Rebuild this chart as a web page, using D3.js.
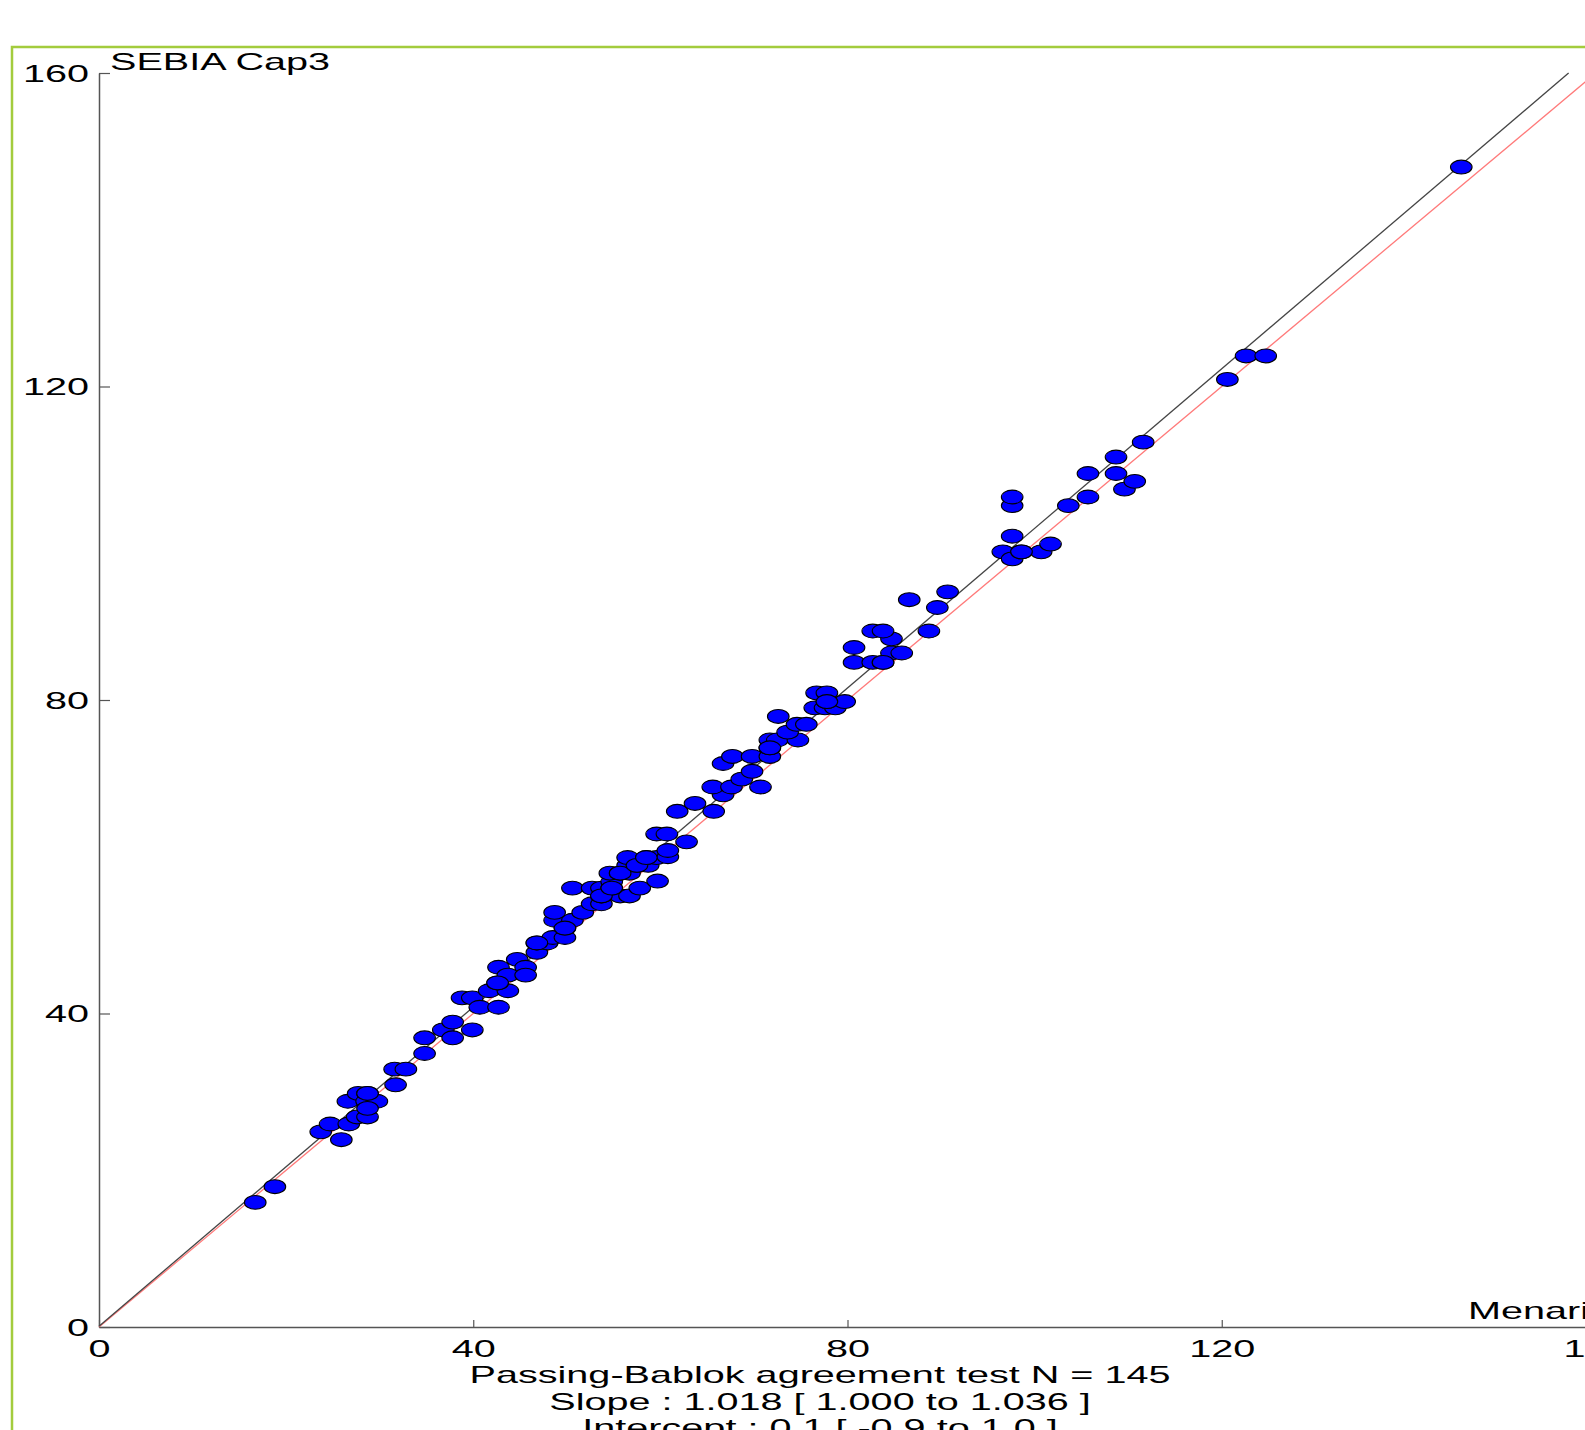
<!DOCTYPE html>
<html>
<head>
<meta charset="utf-8">
<script src="https://cdn.jsdelivr.net/npm/d3@7/dist/d3.min.js"></script>
<style>
body { margin: 0; background: #fff; }
text { font-family: "Liberation Sans", Arial, sans-serif; fill: #000; }
</style>
</head>
<body>
<div id="container"></div>
<script>
// Menarini (x) vs SEBIA Cap3 (y)
var menarini = [16.7, 18.8, 23.7, 24.7, 25.9, 26.7, 26.6, 27.7, 28.7, 28.6, 29.7, 27.6, 28.7, 28.7,
  31.7, 31.6, 32.8, 34.8, 34.8, 36.8, 37.8, 37.8, 39.9, 38.8, 39.9, 40.7, 42.7, 41.7, 43.7, 42.6,
  42.7, 43.7, 44.7, 45.6, 45.6, 46.8, 46.8, 47.9, 48.5, 49.8, 49.8, 48.7, 50.6, 48.7, 51.7, 52.7,
  53.7, 53.7, 55.7, 56.7, 50.6, 52.7, 53.7, 54.8, 57.8, 54.8, 59.7, 54.6, 55.7, 56.7, 56.5, 57.5,
  58.7, 56.5, 58.5, 59.6, 60.8, 60.8, 59.6, 60.7, 62.8, 61.8, 65.7, 63.7, 66.7, 65.6, 67.6, 70.7,
  68.7, 69.8, 66.7, 67.7, 69.8, 71.7, 71.7, 71.7, 72.5, 74.7, 73.6, 74.6, 75.6, 72.6, 76.5, 77.6,
  78.7, 77.8, 79.7, 76.7, 77.8, 80.7, 82.7, 83.8, 84.7, 85.8, 80.7, 84.7, 82.7, 83.8, 88.7, 89.6,
  86.6, 90.7, 96.6, 97.6, 98.6, 100.7, 101.7, 97.6, 97.6, 97.6, 103.6, 105.7, 105.7, 108.7, 109.6,
  110.7, 108.7, 111.6, 120.6, 122.6, 124.7, 145.6,
  28.7, 42.6, 49.8, 53.7, 54.8, 55.7, 57.5, 58.5, 71.7, 77.8, 83.8, 98.6, 46.8];
var sebia = [15.9, 17.9, 24.9, 25.9, 23.9, 25.9, 28.8, 29.8, 29.8, 28.8, 28.8, 26.8, 26.8, 27.9,
  30.9, 32.9, 32.9, 34.9, 36.9, 37.9, 38.9, 36.9, 37.9, 42.0, 42.0, 40.8, 40.8, 42.9, 42.9, 43.9,
  45.9, 44.9, 46.9, 45.9, 44.9, 47.8, 49.0, 49.0, 49.7, 49.7, 50.9, 51.9, 51.9, 52.9, 52.9, 54.0,
  54.0, 55.0, 55.0, 55.0, 56.0, 56.0, 56.0, 56.0, 56.0, 56.8, 56.9, 57.9, 57.9, 57.9, 58.9, 58.9,
  58.9, 59.9, 59.9, 59.9, 60.0, 60.8, 62.9, 62.9, 61.9, 65.8, 65.8, 66.8, 67.9, 68.9, 68.9, 68.9,
  69.9, 70.9, 71.9, 72.8, 72.8, 72.8, 73.9, 74.9, 74.9, 74.9, 75.9, 76.9, 76.9, 77.9, 79.0, 79.0,
  79.0, 79.8, 79.8, 80.9, 80.9, 84.8, 84.8, 84.8, 86.0, 86.0, 86.7, 87.8, 88.8, 88.8, 88.8, 91.8,
  92.8, 93.8, 98.9, 98.0, 98.9, 98.9, 99.9, 100.9, 104.8, 105.9, 104.8, 105.9, 108.9, 108.9, 106.9,
  107.9, 111.0, 112.9, 120.9, 123.9, 123.9, 148.0,
  29.8, 43.9, 50.9, 55.0, 56.0, 57.9, 58.9, 59.9, 73.9, 79.8, 84.8, 98.9, 49.0];

var axisTicks = [0, 40, 80, 120, 160];
var fitSlope = 1.018, fitIntercept = 0.1;
var xTitle = "Menarini", yTitle = "SEBIA Cap3";
var statLines = ["Passing-Bablok agreement test N = 145",
                 "Slope : 1.018 [ 1.000 to 1.036 ]",
                 "Intercept : 0.1 [ -0.9 to 1.0 ]"];

var width = 1585, height = 1430;
var stretch = 1.65; // the original picture is stretched sideways
var fontSize = 24;

var svg = d3.select("#container").
append("svg").
attr("width", width).
attr("height", height);

// green frame
svg.append("rect").
attr("x", 12).
attr("y", 47).
attr("width", 1700).
attr("height", 1500).
attr("fill", "none").
attr("stroke", "#a3cc3d").
attr("stroke-width", 2.5);

var x = d3.scaleLinear().domain([0, 160]).range([99, 1596]);
var y = d3.scaleLinear().domain([0, 160]).range([1327, 73]);

function addText(parent, px, py, str, anchor) {
  return parent.append("text").
  attr("transform", "translate(" + px + "," + py + ") scale(" + stretch + ",1)").
  attr("text-anchor", anchor).
  style("font-size", fontSize + "px").
  text(str);
}

// axes
var xAxis = svg.append("g").
attr("transform", "translate(0," + y(0) + ")").
call(d3.axisBottom(x).tickValues(axisTicks).tickSizeInner(-7).tickSizeOuter(0).tickFormat(d3.format("d")));
var yAxis = svg.append("g").
attr("transform", "translate(" + x(0) + ",0)").
call(d3.axisLeft(y).tickValues(axisTicks).tickSizeInner(-11).tickSizeOuter(0).tickFormat(d3.format("d")));

[xAxis, yAxis].forEach(function (ax) {
  ax.select(".domain").attr("stroke", "#555").attr("stroke-width", 1.5);
  ax.selectAll(".tick line").attr("stroke", "#555").attr("stroke-width", 1.2);
  ax.selectAll(".tick text").
  style("font-size", fontSize + "px").
  style("font-family", "'Liberation Sans', Arial, sans-serif").
  attr("fill", "#000");
});
xAxis.selectAll(".tick text").
attr("y", 30).
attr("dy", 0).
attr("transform", "scale(" + stretch + ",1)");
yAxis.selectAll(".tick text").
attr("x", -10 / stretch).
attr("dy", "0.35em").
attr("transform", "scale(" + stretch + ",1)");

// identity line (red) and Passing-Bablok fit (black)
svg.append("line").
attr("x1", x(0)).attr("y1", y(0)).
attr("x2", x(160)).attr("y2", y(160)).
attr("stroke", "#ff7a7a").
attr("stroke-width", 1.3);

var fitEnd = (160 - fitIntercept) / fitSlope;
svg.append("line").
attr("x1", x(0)).attr("y1", y(fitIntercept)).
attr("x2", x(fitEnd)).attr("y2", y(fitIntercept + fitSlope * fitEnd)).
attr("stroke", "#444").
attr("stroke-width", 1.3);

// points
svg.append("g").
selectAll("ellipse").
data(menarini).
enter().
append("ellipse").
attr("cx", function (d) {return x(d);}).
attr("cy", function (d, i) {return y(sebia[i]);}).
attr("rx", 10.8).
attr("ry", 6.9).
attr("fill", "#0000ff").
attr("stroke", "#000").
attr("stroke-width", 1.1);

// titles
addText(svg, 110, 70, yTitle, "start");
addText(svg, 1468, 1319, xTitle, "start");
statLines.forEach(function (s, i) {
  addText(svg, 820, 1383 + i * 26.5, s, "middle");
});
</script>
</body>
</html>
